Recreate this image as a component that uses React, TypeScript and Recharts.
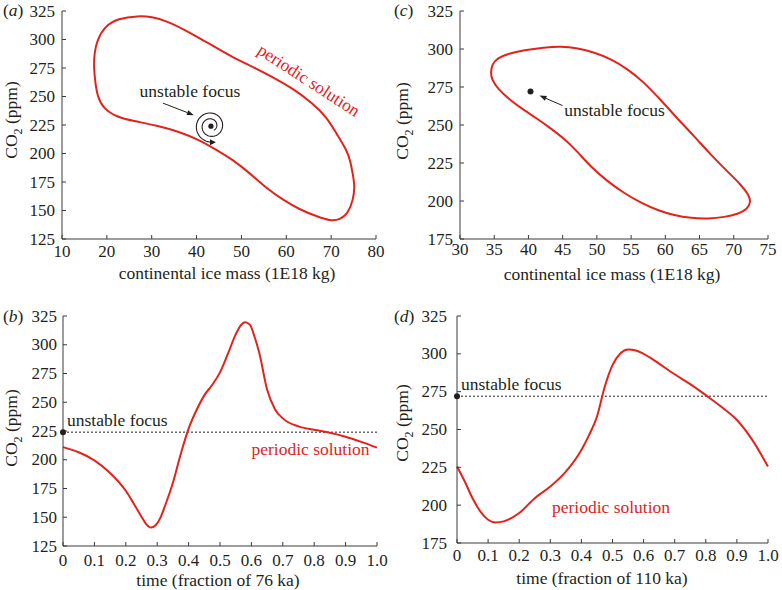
import React from "react";
import { LineChart, Line, XAxis, YAxis, ReferenceLine, ReferenceDot } from "recharts";

const RED = "#e2231c";
const INK = "#231f20";
const AXIS = "#3a3a3a";
const SERIF = "'Liberation Serif', 'Times New Roman', serif";

// (a) limit cycle of the 76 ka model: continental ice mass vs CO2
const loopAIce = [48.2, 45.2, 42.3, 37.8, 33.3, 30.0, 27.0, 22.5, 19.5, 17.8, 17.2, 17.1, 17.4, 17.9, 19.2, 22.2, 25.9, 31.1, 36.3, 40.8, 44.5, 48.2, 51.9, 55.6, 59.3, 63.1, 66.8, 69.7, 72.0, 73.8, 74.9, 75.3, 74.8, 74.3, 73.5, 71.2, 69.0, 66.0, 61.6, 57.1, 52.7, 48.2];
const loopACo2 = [284.3, 291, 297.4, 307.6, 316.3, 320, 320.8, 318.5, 311.5, 299, 288, 275, 263, 250, 239.5, 232, 228.5, 224.7, 218.9, 211.6, 203, 194.2, 182.6, 169.5, 159.3, 150.6, 144.8, 141, 141.8, 147.7, 159.3, 171, 182.6, 193, 202.9, 217.4, 232, 243.6, 256.7, 266.9, 275.6, 284.3];
const focusAIce = 43.2;
const focusACo2 = 224;

// (c) limit cycle of the 110 ka model
const loopCIce = [61.8, 64.3, 66.7, 69.1, 71.1, 72.2, 72.5, 72.0, 70.6, 68.7, 66.2, 63.8, 61.3, 58.9, 56.5, 54.0, 51.6, 49.1, 47.2, 45.2, 43.3, 41.3, 39.4, 37.4, 35.5, 34.6, 34.5, 34.7, 35.5, 36.9, 39.4, 42.3, 44.7, 47.2, 49.6, 52.1, 54.5, 56.9, 59.4, 61.8];
const loopCCo2 = [254.1, 242.2, 230.2, 219.3, 210.5, 204.0, 199.6, 194.6, 191.4, 189.4, 188.3, 188.7, 190.5, 193.8, 198.6, 205.1, 212.7, 222.5, 232.3, 241.1, 247.6, 254.1, 259.6, 266.1, 273.8, 280.3, 284.7, 290.1, 294.0, 296.7, 299.3, 301.0, 301.7, 300.6, 297.8, 293.4, 286.8, 278.1, 266.1, 254.1];
const focusCIce = 40.3;
const focusCCo2 = 272;

// (b) CO2 over one period of 76 ka
const timeB = [0, 0.05, 0.1, 0.15, 0.2, 0.225, 0.25, 0.265, 0.28, 0.295, 0.31, 0.325, 0.35, 0.375, 0.4, 0.425, 0.45, 0.475, 0.5, 0.525, 0.55, 0.565, 0.58, 0.595, 0.61, 0.625, 0.65, 0.675, 0.7, 0.75, 0.8, 0.85, 0.9, 0.95, 1.0];
const co2B = [211, 206.5, 199.5, 188.5, 173, 162, 150.5, 144, 141, 143, 149.5, 160, 180, 205, 227, 243, 256, 265, 276, 292, 309, 316.5, 319.5, 317.5, 307, 293, 261, 244, 236, 229, 226, 223.5, 220, 215.5, 210.5];

// (d) CO2 over one period of 110 ka
const timeD = [0, 0.025, 0.05, 0.075, 0.1, 0.125, 0.15, 0.2, 0.25, 0.3, 0.35, 0.4, 0.425, 0.45, 0.475, 0.5, 0.525, 0.55, 0.575, 0.6, 0.625, 0.65, 0.7, 0.75, 0.8, 0.85, 0.9, 0.95, 1.0];
const co2D = [225.5, 215.6, 204.6, 195.9, 190.4, 188.6, 189.3, 194.8, 204.6, 212.3, 222.2, 236.5, 246.4, 258.4, 278.2, 292.5, 300.2, 302.8, 302.2, 300, 297, 293.5, 286.5, 280, 272.7, 265, 256.3, 243, 225.5];

const iceTicksA = [10, 20, 30, 40, 50, 60, 70, 80];
const iceTicksC = [30, 35, 40, 45, 50, 55, 60, 65, 70, 75];
const co2TicksAB = [125, 150, 175, 200, 225, 250, 275, 300, 325];
const co2TicksCD = [175, 200, 225, 250, 275, 300, 325];
const timeTicks = [0, 0.1, 0.2, 0.3, 0.4, 0.5, 0.6, 0.7, 0.8, 0.9, 1.0];
const timeLabels = ["0", "0.1", "0.2", "0.3", "0.4", "0.5", "0.6", "0.7", "0.8", "0.9", "1.0"];

const zip = (xs: number[], ys: number[]) => xs.map((x, i) => ({ x, y: ys[i] }));

function XTick({ x, y, payload, dy, fmt }: any) {
  return (
    <text x={x} y={y + dy} textAnchor="middle" fontFamily={SERIF} fontSize={17} fill={INK}>
      {fmt ? fmt(payload.value) : payload.value}
    </text>
  );
}

function YTick({ x, y, payload, gap }: any) {
  return (
    <text x={x - gap} y={y + 5.5} textAnchor="end" fontFamily={SERIF} fontSize={17} fill={INK}>
      {payload.value}
    </text>
  );
}

function Arrow({ x1, y1, x2, y2 }: { x1: number; y1: number; x2: number; y2: number }) {
  const len = Math.hypot(x2 - x1, y2 - y1);
  const ux = (x2 - x1) / len;
  const uy = (y2 - y1) / len;
  const bx = x2 - ux * 7;
  const by = y2 - uy * 7;
  return (
    <g>
      <line x1={x1} y1={y1} x2={bx} y2={by} stroke={INK} strokeWidth={1} />
      <polygon
        points={`${x2},${y2} ${bx - uy * 2.5},${by + ux * 2.5} ${bx + uy * 2.5},${by - ux * 2.5}`}
        fill={INK}
      />
    </g>
  );
}

// spiral drawn round the unstable focus in (a)
function FocusA({ cx, cy }: any) {
  const pts: string[] = [];
  const end = 3.5 * Math.PI;
  const span = 1.9 * 2 * Math.PI;
  for (let i = 0; i <= 120; i++) {
    const a = end - span + (span * i) / 120;
    const r = 5 + (11 * i) / 120;
    pts.push(`${(cx + r * Math.cos(a)).toFixed(2)},${(cy - r * Math.sin(a)).toFixed(2)}`);
  }
  const ex = cx;
  const ey = cy + 16;
  return (
    <g>
      <polyline points={pts.join(" ")} fill="none" stroke={INK} strokeWidth={1.1} />
      <polygon points={`${ex + 5},${ey} ${ex - 1},${ey - 3} ${ex - 1},${ey + 3}`} fill={INK} />
      <circle cx={cx} cy={cy} r={2.6} fill={INK} />
      <Arrow x1={cx - 48} y1={cy - 23} x2={cx - 17} y2={cy - 11} />
      <text x={cx - 21} y={cy - 29} textAnchor="middle" fontFamily={SERIF} fontSize={17.5} fill={INK}>
        unstable focus
      </text>
    </g>
  );
}

function FocusC({ cx, cy }: any) {
  return (
    <g>
      <circle cx={cx} cy={cy} r={3} fill={INK} />
      <Arrow x1={cx + 32} y1={cy + 14} x2={cx + 9} y2={cy + 4} />
      <text x={cx + 84} y={cy + 24} textAnchor="middle" fontFamily={SERIF} fontSize={17.5} fill={INK}>
        unstable focus
      </text>
    </g>
  );
}

function FocusLevel({ cx, cy }: any) {
  return (
    <g>
      <circle cx={cx} cy={cy} r={3} fill={INK} />
      <text x={cx + 4} y={cy - 6} fontFamily={SERIF} fontSize={17.5} fill={INK}>
        unstable focus
      </text>
    </g>
  );
}

function YTitle({ x, cy }: { x: number; cy: number }) {
  return (
    <text transform={`translate(${x},${cy}) rotate(-90)`} textAnchor="middle" fontFamily={SERIF} fontSize={17.5} fill={INK}>
      CO<tspan fontSize={12} dy={5}>2</tspan>
      <tspan dy={-5}> (ppm)</tspan>
    </text>
  );
}

function XTitle({ text, cx, y }: { text: string; cx: number; y: number }) {
  return (
    <text x={cx} y={y} textAnchor="middle" fontFamily={SERIF} fontSize={17.5} fill={INK}>
      {text}
    </text>
  );
}

type PanelProps = {
  left: number;
  top: number;
  margin: { top: number; right: number; bottom: number; left: number };
  data: { x: number; y: number }[];
  curve: "basis" | "monotone";
  xDomain: [number, number];
  xTicks: number[];
  xFmt?: (v: number) => string;
  yDomain: [number, number];
  yTicks: number[];
  xDy: number;
  yGap: number;
  xTitle: string;
  xTitleX: number;
  xTitleY: number;
  yTitleY: number;
  children?: React.ReactNode;
};

function Panel(p: PanelProps) {
  return (
    <div style={{ position: "absolute", left: p.left, top: p.top }}>
      <LineChart width={391} height={295} data={p.data} margin={p.margin}>
        <XAxis
          type="number"
          dataKey="x"
          domain={p.xDomain}
          ticks={p.xTicks}
          interval={0}
          height={40}
          tickSize={-4}
          tickMargin={4}
          axisLine={{ stroke: AXIS }}
          tickLine={{ stroke: AXIS }}
          tick={<XTick dy={p.xDy} fmt={p.xFmt} />}
          label={() => <XTitle text={p.xTitle} cx={p.xTitleX} y={p.xTitleY} />}
        />
        <YAxis
          type="number"
          domain={p.yDomain}
          ticks={p.yTicks}
          interval={0}
          width={50}
          tickSize={-4}
          tickMargin={4}
          axisLine={{ stroke: AXIS }}
          tickLine={{ stroke: AXIS }}
          tick={<YTick gap={p.yGap} />}
          label={() => <YTitle x={17} cy={p.yTitleY} />}
        />
        {p.children}
        <Line
          type={p.curve}
          dataKey="y"
          stroke={RED}
          strokeWidth={2}
          dot={false}
          activeDot={false}
          isAnimationActive={false}
        />
      </LineChart>
    </div>
  );
}

function PanelTag({ x, y, letter }: { x: number; y: number; letter: string }) {
  return (
    <text x={x} y={y} fontFamily={SERIF} fontSize={17.5} fill={INK}>
      (<tspan fontStyle="italic">{letter}</tspan>)
    </text>
  );
}

const fmtTime = (v: number) => timeLabels[timeTicks.indexOf(v)] ?? String(v);

export default function App() {
  return (
    <div style={{ position: "absolute", left: 0, top: 0, width: 782, height: 590, background: "#fff" }}>
      <Panel
        left={0}
        top={0}
        margin={{ top: 11, right: 15, bottom: 16, left: 12 }}
        data={zip(loopAIce, loopACo2)}
        curve="basis"
        xDomain={[10, 80]}
        xTicks={iceTicksA}
        yDomain={[125, 325]}
        yTicks={co2TicksAB}
        xDy={18}
        yGap={7}
        xTitle="continental ice mass (1E18 kg)"
        xTitleX={227}
        xTitleY={279}
        yTitleY={120}
      >
        <ReferenceDot x={focusAIce} y={focusACo2} r={3} shape={(s: any) => <FocusA cx={s.cx} cy={s.cy} />} />
      </Panel>

      <Panel
        left={391}
        top={0}
        margin={{ top: 11, right: 14, bottom: 16, left: 19 }}
        data={zip(loopCIce, loopCCo2)}
        curve="basis"
        xDomain={[30, 75]}
        xTicks={iceTicksC}
        yDomain={[175, 325]}
        yTicks={co2TicksCD}
        xDy={16}
        yGap={7}
        xTitle="continental ice mass (1E18 kg)"
        xTitleX={221}
        xTitleY={280}
        yTitleY={121}
      >
        <ReferenceDot x={focusCIce} y={focusCCo2} r={3} shape={(s: any) => <FocusC cx={s.cx} cy={s.cy} />} />
      </Panel>

      <Panel
        left={0}
        top={295}
        margin={{ top: 21, right: 14, bottom: 4, left: 13 }}
        data={zip(timeB, co2B)}
        curve="monotone"
        xDomain={[0, 1]}
        xTicks={timeTicks}
        xFmt={fmtTime}
        yDomain={[125, 325]}
        yTicks={co2TicksAB}
        xDy={20}
        yGap={6}
        xTitle="time (fraction of 76 ka)"
        xTitleX={218}
        xTitleY={291}
        yTitleY={133}
      >
        <ReferenceLine y={focusACo2} stroke={INK} strokeWidth={1} strokeDasharray="2 2" />
        <ReferenceDot x={0} y={focusACo2} r={3} shape={(s: any) => <FocusLevel cx={s.cx} cy={s.cy} />} />
      </Panel>

      <Panel
        left={391}
        top={295}
        margin={{ top: 21, right: 14, bottom: 7, left: 16 }}
        data={zip(timeD, co2D)}
        curve="monotone"
        xDomain={[0, 1]}
        xTicks={timeTicks}
        xFmt={fmtTime}
        yDomain={[175, 325]}
        yTicks={co2TicksCD}
        xDy={18}
        yGap={10}
        xTitle="time (fraction of 110 ka)"
        xTitleX={211}
        xTitleY={289}
        yTitleY={128}
      >
        <ReferenceLine y={focusCCo2} stroke={INK} strokeWidth={1} strokeDasharray="2 2" />
        <ReferenceDot x={0} y={focusCCo2} r={3} shape={(s: any) => <FocusLevel cx={s.cx} cy={s.cy} />} />
      </Panel>

      <svg
        width={782}
        height={590}
        style={{ position: "absolute", left: 0, top: 0, pointerEvents: "none" }}
      >
        <PanelTag x={3} y={16} letter="a" />
        <PanelTag x={394} y={16} letter="c" />
        <PanelTag x={3} y={322} letter="b" />
        <PanelTag x={394} y={322} letter="d" />
        <text
          x={309}
          y={80}
          dy="0.35em"
          transform="rotate(33 309 80)"
          textAnchor="middle"
          fontFamily={SERIF}
          fontSize={17.5}
          fill={RED}
        >
          periodic solution
        </text>
        <text x={310.5} y={455} textAnchor="middle" fontFamily={SERIF} fontSize={17.5} fill={RED}>
          periodic solution
        </text>
        <text x={611} y={513} textAnchor="middle" fontFamily={SERIF} fontSize={17.5} fill={RED}>
          periodic solution
        </text>
      </svg>
    </div>
  );
}
